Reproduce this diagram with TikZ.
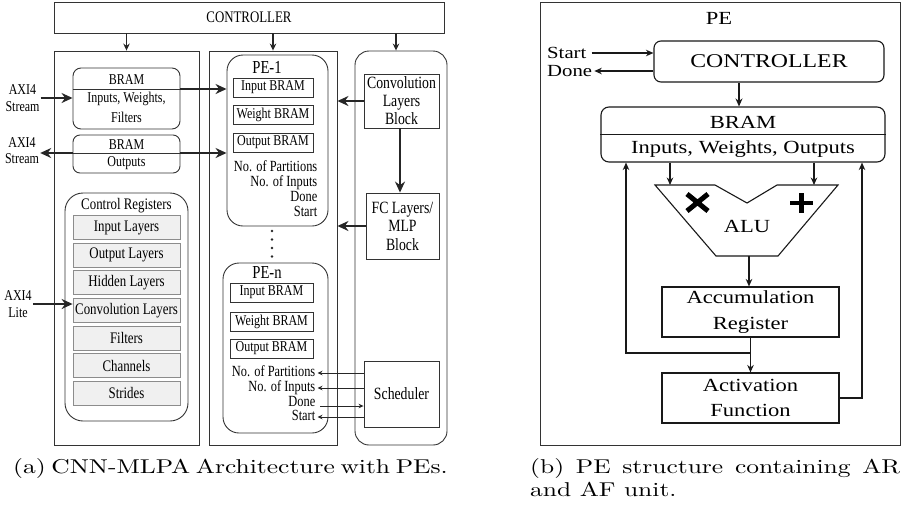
\documentclass[tikz,border=0pt]{standalone}
\usepackage{fontspec}
\usepackage{graphicx}
\usetikzlibrary{arrows.meta}
\newfontfamily\lfnt[FakeStretch=0.8]{Liberation Serif}
\newfontfamily\rfnt[FakeStretch=1.22]{Liberation Serif}
\newcommand\lsz[2]{\lfnt\fontsize{#1}{#2}\selectfont}
\newcommand\rsz[2]{\rfnt\fontsize{#1}{#2}\selectfont}
\begin{document}
\begin{tikzpicture}[x=1pt,y=-1pt,
  ln/.style={draw=black!80, line width=0.9pt},
  bx/.style={ln, inner sep=0pt, anchor=center},
  wh/.style 2 args={minimum width=#1pt, minimum height=#2pt},
  txt/.style={inner sep=1pt, text=black},
  pelbl/.style={inner sep=0.5pt, text=black, anchor=east, text height=9pt, text depth=2.5pt, font={\lsz{15.5}{16}}},
  sbox/.style={bx, wh={80}{19}, font={\lsz{15}{16}}},
  regrow/.style={draw=black!45, fill=black!6, line width=0.8pt, inner sep=0pt, wh={107}{24}, font={\lsz{16.1}{18}}},
  tarr/.style={draw=black!85, line width=2.4pt, -{Stealth[length=11pt,width=10pt]}},
  carr/.style={draw=black!85, line width=1.5pt, -{Stealth[length=7pt,width=6.5pt]}},
  sarr/.style={draw=black!85, line width=0.9pt, -{Stealth[length=5pt,width=4.5pt]}},
  rarr/.style={draw=black!90, line width=1.2pt, -{Stealth[length=7.5pt,width=6.5pt]}},
  rarr2/.style={draw=black!90, line width=1.8pt, -{Stealth[length=8pt,width=7pt]}},
  rbx/.style={bx, draw=black!90, line width=1.1pt}
]
\useasboundingbox (0,0) rectangle (908,512);

% ---------- (a) ----------
\node[bx, wh={390}{31}, font={\lsz{16.1}{18}}] (ctrl) at (249,17.5) {CONTROLLER};
\node[bx, wh={145}{394}] (lpanel) at (126.5,248) {};
\node[bx, wh={128}{394}] (mpanel) at (273,248) {};
\node[bx, wh={92}{394}, rounded corners=14pt] (rpanel) at (401,248) {};
\draw[carr] (lpanel.north |- ctrl.south) -- (lpanel.north);
\draw[carr] (mpanel.north |- ctrl.south) -- (mpanel.north);
\draw[carr] ([xshift=-5pt]rpanel.north |- ctrl.south) -- ([xshift=-5pt]rpanel.north);

% BRAM 1
\node[bx, wh={107}{61}, rounded corners=8pt] (bram1) at (126.5,98.5) {};
\draw[ln, line width=0.7pt] ([yshift=9.5pt]bram1.west) -- ([yshift=9.5pt]bram1.east);
\node[txt, font={\lsz{15}{20}}] (bram1a) at (126.5,80) {BRAM};
\node[txt, font={\lsz{15}{20}}, align=center] (bram1b) at (126.5,107) {Inputs, Weights,\\Filters};
\node[txt, align=center, font={\lsz{15}{17}}] (axi1) at (22.5,98) {AXI4\\Stream};
\draw[tarr] (axi1.east) -- (axi1.east -| bram1.west);

% BRAM 2
\node[bx, wh={107}{38}, rounded corners=7pt] (bram2) at (126.5,154) {};
\draw[ln, line width=0.7pt] ([yshift=1pt]bram2.west) -- ([yshift=1pt]bram2.east);
\node[txt, font={\lsz{15}{16}}] (bram2a) at (126.5,145) {BRAM};
\node[txt, font={\lsz{15}{16}}] (bram2b) at (126.5,163) {Outputs};
\node[txt, align=center, font={\lsz{15}{16}}] (axi2) at (22,150.5) {AXI4\\Stream};
\draw[tarr] ([yshift=1pt]bram2.west) -- ([yshift=1pt]bram2.west -| axi2.east);

% Control registers
\node[bx, wh={123}{228}, rounded corners=18pt] (creg) at (126.5,307) {};
\node[txt, font={\lsz{16.1}{18}}] (cregt) at (126.5,206) {Control Registers};
\foreach \t [count=\i] in {Input Layers,Output Layers,Hidden Layers,Convolution Layers,Filters,Channels,Strides}
  \node[regrow] (r\i) at (126.5,{227.5+27.6*(\i-1)}) {\t};
\node[txt, align=center, font={\lsz{15}{17}}] (axi3) at (18,304) {AXI4\\Lite};
\draw[tarr] (axi3.east) -- (axi3.east -| r4.west);

% PE-1
\node[bx, wh={101}{171}, rounded corners=16pt] (pe1) at (277.5,140.5) {};
\node[txt, font={\lsz{18.3}{20}}] (pe1t) at (267,67) {PE-1};
\node[sbox] (ib1) at (273,87.5) {Input BRAM};
\node[sbox] (wb1) at (273,115) {Weight BRAM};
\node[sbox] (ob1) at (273,142.5) {Output BRAM};
\node[pelbl] (p1a) at (318,168) {No. of Partitions};
\node[pelbl] (p1b) at (318,183) {No. of Inputs};
\node[pelbl] (p1c) at (318,198) {Done};
\node[pelbl] (p1d) at (318,213) {Start};
\draw[tarr] ([yshift=9.5pt]bram1.east) -- ([yshift=9.5pt]bram1.east -| pe1.west);
\draw[tarr] ([yshift=1pt]bram2.east) -- ([yshift=1pt]bram2.east -| pe1.west);

\foreach \yy in {231,239.5,248,256.5} \fill[black!85] (272,\yy) circle (1.4pt);

% PE-n
\node[bx, wh={105}{170}, rounded corners=16pt] (pen) at (275.5,348) {};
\node[txt, font={\lsz{18.3}{20}}] (pent) at (267,273) {PE-n};
\node[sbox, wh={83}{19}] (ibn) at (271.5,292.5) {Input BRAM};
\node[sbox, wh={83}{19}] (wbn) at (271.5,321.5) {Weight BRAM};
\node[sbox, wh={83}{19}] (obn) at (271.5,348.5) {Output BRAM};
\node[pelbl] (pna) at (316,373) {No. of Partitions};
\node[pelbl] (pnb) at (316,388) {No. of Inputs};
\node[pelbl] (pnc) at (316,403) {Done};
\node[pelbl] (pnd) at (316,417) {Start};

% right panel
\node[bx, wh={75}{66}, font={\lsz{17.2}{18}}] (sched) at (401.5,394) {Scheduler};
\draw[sarr] (sched.west |- pna.east) -- ([xshift=1.5pt]pna.east);
\draw[sarr] (sched.west |- pnb.east) -- ([xshift=1.5pt]pnb.east);
\draw[sarr] ([xshift=4pt,yshift=-3pt]pnc.east) -- ([yshift=-3pt]pnc.east -| sched.west);
\draw[sarr] (sched.west |- pnd.east) -- ([xshift=1.5pt]pnd.east);

\node[bx, wh={75}{54}, align=center, font={\lsz{17.2}{18}}] (conv) at (401.5,101) {Convolution\\Layers\\Block};
\node[bx, wh={73}{66}, align=center, font={\lsz{17.2}{18.5}}] (fc) at (402.5,226) {FC Layers/\\MLP\\Block};
\draw[tarr] ([xshift=-1.5pt]conv.south) -- ([xshift=-1.5pt]conv.south |- fc.north);
\draw[tarr] (conv.west) -- (conv.west -| mpanel.east);
\draw[tarr] (fc.west) -- (fc.west -| mpanel.east);

% ---------- (b) ----------
\node[bx, wh={360}{443}] (outer) at (720,223.5) {};
\node[txt, font={\rsz{18.5}{20}}] (pet) at (719,18) {PE};
\node[rbx, wh={230}{41}, rounded corners=7pt, font={\rsz{19.5}{22}}] (rctrl) at (769,61.5) {CONTROLLER};
\node[txt, anchor=west, font={\rsz{17}{20}}] (st) at (546,53) {Start};
\node[txt, anchor=west, font={\rsz{17}{20}}] (dn) at (546,71) {Done};
\draw[rarr] ([xshift=4pt]st.east) -- (st.east -| rctrl.west);
\draw[rarr] (dn.east -| rctrl.west) -- ([xshift=1pt]dn.east);

\node[rbx, wh={284}{55}, rounded corners=8pt] (rbram) at (743,134.5) {};
\draw[draw=black!90, line width=0.9pt] (rbram.west) -- (rbram.east);
\node[txt, font={\rsz{18.5}{20}}] (rbt) at (743,122) {BRAM};
\node[txt, font={\rsz{18.5}{20}}] (rbb) at (743,149) {Inputs, Weights, Outputs};
\draw[rarr2] ([xshift=-30pt]rctrl.south) -- ([xshift=-30pt]rctrl.south |- rbram.north);

\coordinate (a1) at (655,185);
\coordinate (a2) at (715,185);
\coordinate (a3) at (747,203);
\coordinate (a4) at (777,185);
\coordinate (a5) at (838,185);
\coordinate (a6) at (778,256);
\coordinate (a7) at (716,256);
\draw[draw=black!90, line width=1.1pt, line join=miter] (a1) -- (a2) -- (a3) -- (a4) -- (a5) -- (a6) -- (a7) -- cycle;
\node[txt, font={\rsz{18.5}{20}}] (alu) at (747,226) {ALU};
\draw[line width=5pt, black] (687,194) -- (708,211) (687,211) -- (708,194);
\draw[line width=4.5pt, black] (790,203) -- (813,203) (801.5,193) -- (801.5,213);

\coordinate (in1) at (670,185);
\coordinate (in2) at (814,185);
\draw[rarr] (rbram.south -| in1) -- (in1);
\draw[rarr] (rbram.south -| in2) -- (in2);

\node[rbx, wh={177}{50}, align=center, font={\rsz{18.5}{26}}] (acc) at (750.5,312) {Accumulation\\Register};
\node[rbx, wh={177}{50}, align=center, font={\rsz{18.5}{25}}] (act) at (750.5,398) {Activation\\Function};
\coordinate (ab) at (749,256);
\draw[rarr] (ab) -- (ab |- acc.north);
\draw[rarr] (acc.south) -- (act.north);
\coordinate (jn) at (750.5,353);
\coordinate (fb1) at (626,353);
\draw[rarr] (jn) -- (fb1) -- (fb1 |- rbram.south);
\coordinate (fb2) at (862,398);
\draw[rarr] (act.east) -- (fb2) -- (fb2 |- rbram.south);

% captions
\node[txt, anchor=base west] (capa) at (12,473) {\scalebox{2.55}[2.0]{\makebox[164.3pt][s]{(a) CNN-MLPA Architecture with PEs.}}};
\node[txt, anchor=base west] (capb1) at (529,473) {\scalebox{2.55}[2.0]{\makebox[145.1pt][s]{(b) PE structure containing AR}}};
\node[txt, anchor=base west] (capb2) at (529,496) {\scalebox{2.55}[2.0]{and AF unit.}};
\end{tikzpicture}
\end{document}
